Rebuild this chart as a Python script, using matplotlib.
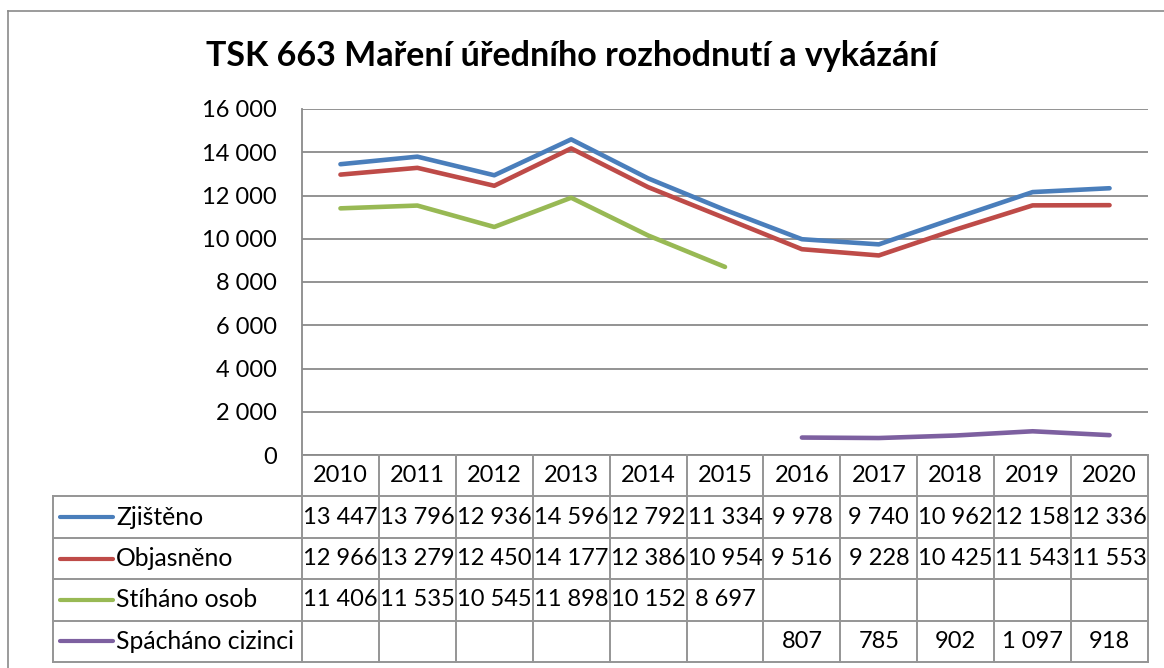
import matplotlib
matplotlib.use("Agg")
import matplotlib.pyplot as plt
from matplotlib.lines import Line2D
import numpy as np

# ============================================================
# DATA
# ============================================================
years = [2010, 2011, 2012, 2013, 2014, 2015, 2016, 2017, 2018, 2019, 2020]
zjisteno = [13447, 13796, 12936, 14596, 12792, 11334, 9978, 9740, 10962, 12158, 12336]
objasneno = [12966, 13279, 12450, 14177, 12386, 10954, 9516, 9228, 10425, 11543, 11553]
stihano = [11406, 11535, 10545, 11898, 10152, 8697, None, None, None, None, None]
spachano = [None, None, None, None, None, None, 807, 785, 902, 1097, 918]

series_names = ["Zjištěno", "Objasněno", "Stíháno osob", "Spácháno cizinci"]
series_colors = ["#4A7EBB", "#BE4B48", "#98B954", "#7D60A0"]
title = "TSK 663 Maření úředního rozhodnutí a vykázání"
yticks = [0, 2000, 4000, 6000, 8000, 10000, 12000, 14000, 16000]

plt.rcParams['font.family'] = ['Lato', 'DejaVu Sans']

W, H = 1164, 668
GRID = "#8a8a8a"
FS = 17
FS_LABEL = 17.8


def fmt(v):
    return "" if v is None else f"{v:,}".replace(",", " ")


def fx(px):
    return px / W


def fy(py):
    return 1 - py / H


fig = plt.figure(figsize=(W / 100, H / 100), dpi=100)

# outer chart frame (only left/top edges visible in the crop)
fig.add_artist(Line2D([fx(8), fx(8)], [fy(11), 0], color=GRID, lw=1.2))
fig.add_artist(Line2D([fx(8), 1], [fy(11), fy(11)], color=GRID, lw=1.2))

fig.text(fx(572), fy(66), title, ha="center", va="baseline",
         fontsize=24.5, fontweight="bold")

# ============================================================
# LINE CHART
# ============================================================
ax = fig.add_axes([fx(302), fy(455), fx(1148) - fx(302), fy(109) - fy(455)])
x = np.arange(len(years))
all_series = [zjisteno, objasneno, stihano, spachano]
for vals, c in zip(all_series, series_colors):
    y = np.array([np.nan if v is None else v for v in vals], dtype=float)
    ax.plot(x, y, color=c, lw=3.3, solid_capstyle="round", solid_joinstyle="round", zorder=3)

ax.set_xlim(-0.5, len(years) - 0.5)
ax.set_ylim(0, 16000)
ax.set_yticks(yticks)
ax.set_yticklabels([fmt(t) for t in yticks], fontsize=FS)
ax.tick_params(axis="y", length=0, pad=18)
ax.set_xticks([])
ax.grid(axis="y", color=GRID, lw=1.3)
for s in ["top", "right", "bottom"]:
    ax.spines[s].set_visible(False)
ax.spines["left"].set_color(GRID)
ax.spines["left"].set_linewidth(1.3)

# ============================================================
# DATA TABLE
# ============================================================
unit = (1148 - 302) / len(years)
left_units = (302 - 53) / unit
tab = fig.add_axes([fx(53), fy(662), fx(1148) - fx(53), fy(455) - fy(662)])
tab.set_xlim(-0.5 - left_units, len(years) - 0.5)
tab.set_ylim(5, 0)
tab.axis("off")


def ux(px):
    return -0.5 + (px - 302) / unit


xl, xr = -0.5 - left_units, len(years) - 0.5
kw = dict(color="#959595", lw=1.4, clip_on=False)
tab.plot([-0.5, xr], [0, 0], color=GRID, lw=1.3, clip_on=False)
for r in range(1, 6):
    tab.plot([xl, xr], [r, r], **kw)
for i in range(len(years) + 1):
    tab.plot([i - 0.5, i - 0.5], [0, 5], **kw)
tab.plot([xl, xl], [1, 5], **kw)

for i, yr in enumerate(years):
    tab.text(i, 0.5, str(yr), ha="center", va="center", fontsize=FS)

for r, (name, vals, c) in enumerate(zip(series_names, all_series, series_colors), start=1):
    yc = r + 0.5
    tab.plot([ux(60), ux(113)], [yc, yc], color=c, lw=3, solid_capstyle="round")
    tab.text(ux(116), yc, name, ha="left", va="center", fontsize=FS_LABEL)
    for i, v in enumerate(vals):
        tab.text(i, yc, fmt(v), ha="center", va="center", fontsize=FS)

fig.savefig("out.png", dpi=100)
